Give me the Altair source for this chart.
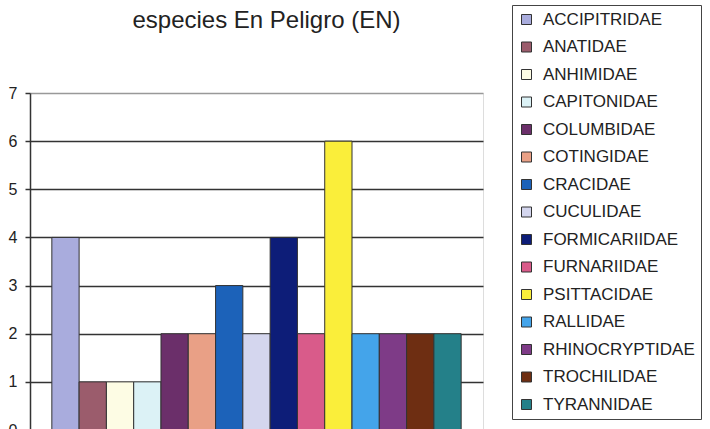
import altair as alt
import pandas as pd

families = ["ACCIPITRIDAE", "ANATIDAE", "ANHIMIDAE", "CAPITONIDAE", "COLUMBIDAE",
            "COTINGIDAE", "CRACIDAE", "CUCULIDAE", "FORMICARIIDAE", "FURNARIIDAE",
            "PSITTACIDAE", "RALLIDAE", "RHINOCRYPTIDAE", "TROCHILIDAE", "TYRANNIDAE"]
counts = [4, 1, 1, 1, 2, 2, 3, 2, 4, 2, 6, 2, 2, 2, 2]
colors = ["#a9acdd", "#9b5c6c", "#fdfce4", "#dcf2f6", "#6b2f6a",
          "#e9a086", "#1c62b9", "#d4d6ee", "#0d1d78", "#d95b8a",
          "#faee3a", "#44a4ea", "#7e3b87", "#6e2e12", "#248089"]
y_ticks = [0, 1, 2, 3, 4, 5, 6, 7]

df = pd.DataFrame({"familia": families, "especies": counts})

FONT = "Liberation Sans"

chart = alt.Chart(df).mark_bar(stroke="#333333", strokeWidth=1).encode(
    x=alt.X("familia:N", sort=families, axis=None,
            scale=alt.Scale(paddingInner=0, paddingOuter=0.8)),
    y=alt.Y("especies:Q", title=None,
            scale=alt.Scale(domain=[0, 7], nice=False),
            axis=alt.Axis(values=y_ticks, labelFontSize=16, labelFont=FONT,
                          labelColor="#222222", tickSize=5, tickColor="#333333",
                          tickWidth=1.5, labelPadding=8, domainColor="#333333",
                          domainWidth=1.5,
                          gridColor=alt.condition("datum.value == 7", alt.value("#999999"), alt.value("#333333")),
                          gridWidth=1.5)),
    color=alt.Color("familia:N", sort=families,
                    scale=alt.Scale(domain=families, range=colors),
                    legend=alt.Legend(title=None, orient="none", legendX=482, legendY=-88,
                                      symbolType="square", symbolSize=100,
                                      symbolStrokeColor="#333333", symbolStrokeWidth=1,
                                      labelFontSize=17, labelFont=FONT, labelColor="#222222",
                                      labelOffset=8, rowPadding=9.5, padding=6,
                                      strokeColor="#444444", fillColor="#ffffff",
                                      labelLimit=300)),
).properties(
    width=453,
    height=337,
    title=alt.TitleParams("especies En Peligro (EN)", fontSize=24, font=FONT,
                          fontWeight="normal", color="#222222", offset=-28, dx=10,
                          anchor="middle"),
    autosize=alt.AutoSizeParams(type="none"),
    padding={"left": 30, "top": 93, "right": 227, "bottom": 0},
).configure_view(
    fill="#cacccd", stroke="#999999", strokeWidth=1.5
).configure(background="#ffffff")

chart.save("out.html", embed_options={"renderer": "svg", "actions": False})
